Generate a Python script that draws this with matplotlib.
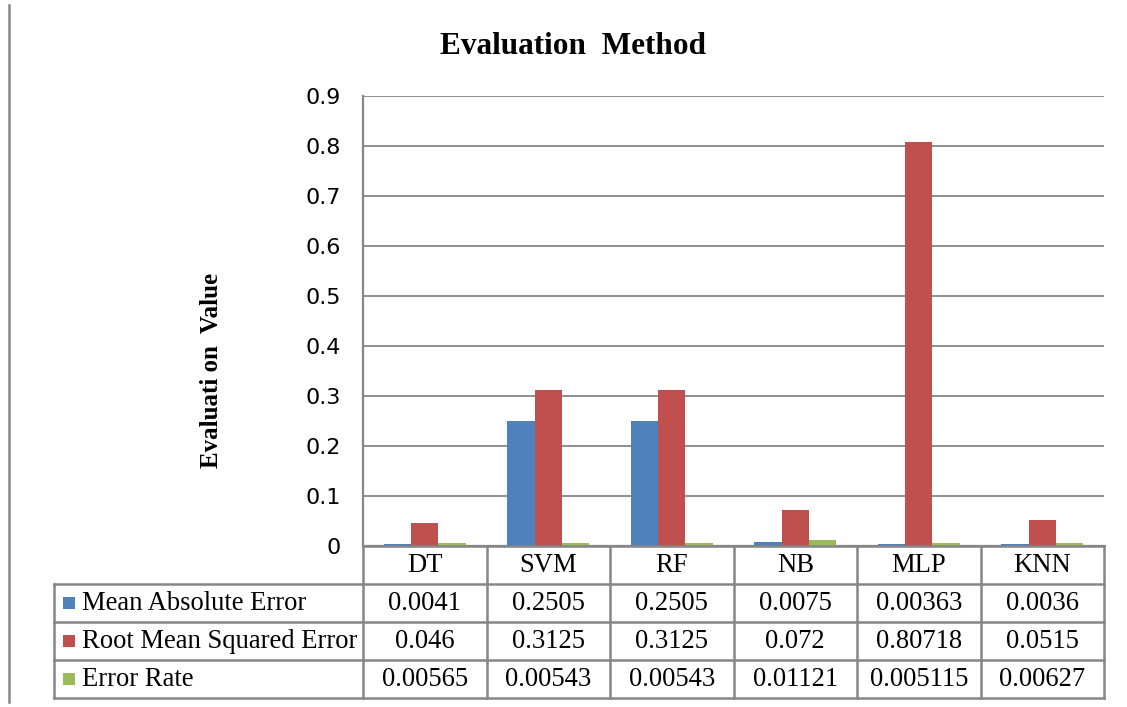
import matplotlib
matplotlib.use('Agg')
import matplotlib.pyplot as plt
import matplotlib.transforms as mtransforms
from matplotlib.patches import Rectangle
import numpy as np

# data
methods = ['DT', 'SVM', 'RF', 'NB', 'MLP', 'KNN']
series_names = ['Mean Absolute Error', 'Root Mean Squared Error', 'Error Rate']
mae = [0.0041, 0.2505, 0.2505, 0.0075, 0.00363, 0.0036]
rmse = [0.046, 0.3125, 0.3125, 0.072, 0.80718, 0.0515]
err_rate = [0.00565, 0.00543, 0.00543, 0.01121, 0.005115, 0.00627]
mae_txt = ['0.0041', '0.2505', '0.2505', '0.0075', '0.00363', '0.0036']
rmse_txt = ['0.046', '0.3125', '0.3125', '0.072', '0.80718', '0.0515']
err_txt = ['0.00565', '0.00543', '0.00543', '0.01121', '0.005115', '0.00627']
yticks = [0, 0.1, 0.2, 0.3, 0.4, 0.5, 0.6, 0.7, 0.8, 0.9]

colors = ['#4F81BD', '#C0504D', '#9BBB59']
grey = '#868686'
serif = 'Liberation Serif'

W, H = 1127, 707
fig = plt.figure(figsize=(W / 100, H / 100), dpi=100)
fig.patch.set_facecolor('white')

# plot area in pixels: x 363..1104, y 96..546
ax = fig.add_axes([363 / W, 1 - 546 / H, (1104 - 363) / W, (546 - 96) / H])
x = np.arange(len(methods))
bw = 0.22
for k, vals in enumerate([mae, rmse, err_rate]):
    ax.bar(x + (k - 1) * bw, vals, bw, color=colors[k], zorder=3, linewidth=0)

ax.set_xlim(-0.5, len(methods) - 0.5)
ax.set_ylim(0, 0.9)
ax.set_yticks(yticks)
ax.set_yticklabels([('%g' % t) for t in yticks], fontsize=16, family='DejaVu Sans')
ax.set_xticks([])
ax.tick_params(axis='y', length=0, pad=16)
ax.yaxis.grid(True, color=grey, lw=1.3, zorder=0)
ax.set_axisbelow(True)
for s in ['top', 'right']:
    ax.spines[s].set_visible(False)
for s in ['left', 'bottom']:
    ax.spines[s].set_color(grey)
    ax.spines[s].set_linewidth(1.6)

# overlay in pixel coordinates for title, label and the data table
ov = fig.add_axes([0, 0, 1, 1], facecolor='none')
ov.set_xlim(0, W)
ov.set_ylim(H, 0)
ov.axis('off')

ov.text(573, 46, 'Evaluation  Method', ha='center', va='center', fontsize=22.5,
        fontweight='bold', family=serif)
ov.text(212, 370, 'Evaluati on  Value', ha='center', va='center', fontsize=18,
        fontweight='bold', family=serif, rotation=90)

# page border line on the left
ov.plot([9, 9], [5, 702], color=grey, lw=1.8)

# table
rows_y = [546, 584, 622, 660, 698]
x_left, x_plot, x_right = 54, 363, 1104
tl = dict(color=grey, lw=1.8, solid_capstyle='projecting')
ov.plot([x_plot, x_right], [rows_y[0], rows_y[0]], **tl)
for yy in rows_y[1:]:
    ov.plot([x_left, x_right], [yy, yy], **tl)
ov.plot([x_left, x_left], [rows_y[1], rows_y[-1]], **tl)
col_w = (x_right - x_plot) / len(methods)
for i in range(len(methods) + 1):
    xx = x_plot + i * col_w
    ov.plot([xx, xx], [rows_y[0], rows_y[-1]], **tl)

blend = mtransforms.blended_transform_factory(ax.transData, ov.transData)
fs = 19.2
for i, m in enumerate(methods):
    ov.text(i, (rows_y[0] + rows_y[1]) / 2 + 1, m, transform=blend, ha='center',
            va='center', fontsize=fs, family=serif)
for r, txts in enumerate([mae_txt, rmse_txt, err_txt]):
    yc = (rows_y[r + 1] + rows_y[r + 2]) / 2 + 1
    for i, t in enumerate(txts):
        ov.text(i, yc, t, transform=blend, ha='center', va='center',
                fontsize=fs, family=serif)
    ov.add_patch(Rectangle((63, yc - 7.5), 12, 12, facecolor=colors[r], edgecolor='none'))
    ov.text(82, yc, series_names[r], ha='left', va='center', fontsize=fs,
            family=serif)

plt.savefig('out.png', dpi=100, facecolor='white')
print("out.png saved")
